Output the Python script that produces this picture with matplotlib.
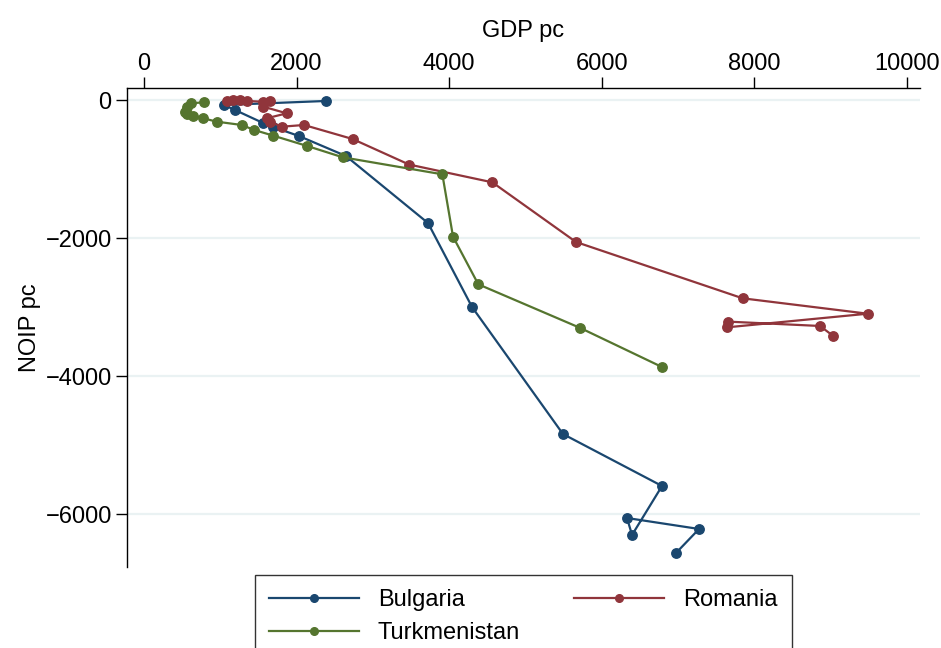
import matplotlib
matplotlib.use("Agg")
import matplotlib.pyplot as plt
from matplotlib.lines import Line2D

plt.rcParams['font.family'] = ['Liberation Sans', 'DejaVu Sans']

# GDP per capita (x) and NOIP per capita (y) paths by country
bulgaria_gdp = [2385, 1048, 1193, 1560, 1691, 2031, 2647, 3722, 4299, 5491,
                6789, 6396, 6330, 7274, 6972]
bulgaria_noip = [-14, -72, -145, -333, -391, -522, -812, -1783, -3000, -4841,
                 -5594, -6304, -6058, -6217, -6565]

romania_gdp = [1084, 1166, 1258, 1350, 1564, 1651, 1564, 1870, 1608, 1651,
               1805, 2097, 2733, 3473, 4565, 5662, 7846, 9485, 7637, 7658,
               8860, 9026]
romania_noip = [-14, -7, -7, -14, -25, -10, -97, -193, -265, -314,
                -387, -362, -565, -935, -1193, -2058, -2874, -3097, -3295, -3212,
                -3275, -3414]

turkmenistan_gdp = [790, 612, 567, 537, 560, 646, 777, 953, 1280, 1446,
                    1695, 2140, 2604, 3910, 4050, 4381, 5718, 6789]
turkmenistan_noip = [-33, -48, -97, -170, -207, -232, -265, -314, -362, -435,
                     -517, -667, -830, -1077, -1981, -2671, -3304, -3870]

x_ticks = [0, 2000, 4000, 6000, 8000, 10000]
y_ticks = [0, -2000, -4000, -6000]

navy = '#1a476f'
maroon = '#90353b'
forest = '#55752f'
grid_col = '#eaf2f3'

fig = plt.figure(figsize=(9.41, 6.48), dpi=100)
ax = fig.add_axes([127 / 941, 1 - 567 / 648, (920 - 127) / 941, (567 - 88) / 648])

series = [
    ('Bulgaria', bulgaria_gdp, bulgaria_noip, navy),
    ('Romania', romania_gdp, romania_noip, maroon),
    ('Turkmenistan', turkmenistan_gdp, turkmenistan_noip, forest),
]
for name, xs, ys, col in series:
    ax.plot(xs, ys, color=col, lw=1.6, marker='o', ms=6.8, mec=col, mfc=col,
            zorder=3)

ax.set_xlim(-223, 10170)
ax.set_ylim(-6768, 174)
ax.set_xticks(x_ticks)
ax.set_yticks(y_ticks)
ax.set_yticklabels(['0', '\u22122000', '\u22124000', '\u22126000'])
ax.xaxis.tick_top()
ax.xaxis.set_label_position('top')
ax.tick_params(axis='x', direction='out', length=8, width=1, labelsize=17, pad=1)
ax.tick_params(axis='y', direction='out', length=8, width=1, labelsize=17, pad=3)
ax.set_xlabel('GDP pc', fontsize=17, labelpad=12)
ax.set_ylabel('NOIP pc', fontsize=17, labelpad=3)

for s in ['right', 'bottom']:
    ax.spines[s].set_visible(False)
for s in ['top', 'left']:
    ax.spines[s].set_linewidth(1)

ax.grid(axis='y', color=grid_col, lw=1.6, zorder=0)
ax.set_axisbelow(True)

handles = [Line2D([], [], color=c, lw=1.6, marker='o', ms=5.5) for _, _, _, c in series]
labels = [n for n, _, _, _ in series]
# two columns, filled column-wise: Bulgaria/Turkmenistan, then Romania
order = [0, 2, 1]
leg = fig.legend([handles[i] for i in order], [labels[i] for i in order],
                 loc='upper left', bbox_to_anchor=(255 / 941, 1 - 575 / 648),
                 ncol=2, fontsize=17, frameon=True, fancybox=False,
                 edgecolor='black', handlelength=3.8, handletextpad=0.8,
                 columnspacing=2.3, borderpad=0.6, labelspacing=0.47,
                 borderaxespad=0)
leg.get_frame().set_linewidth(1)

fig.savefig('out.png', dpi=100)
